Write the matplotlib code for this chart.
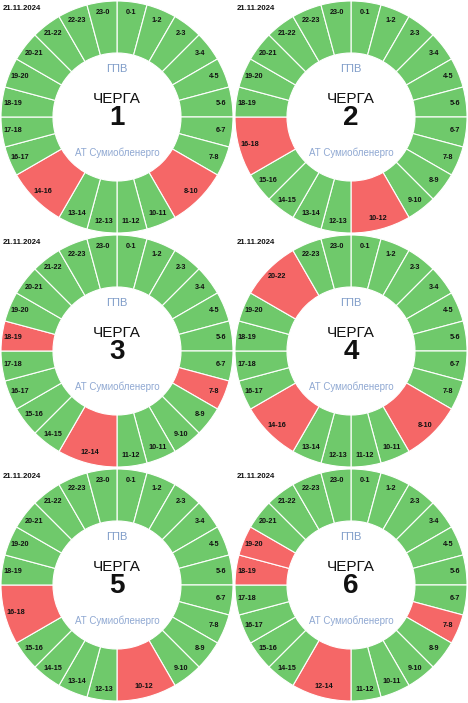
import matplotlib
matplotlib.use("Agg")
import matplotlib.pyplot as plt

plt.rcParams['font.family'] = ['Liberation Sans', 'DejaVu Sans']

date_label = "21.11.2024"
queues = [1, 2, 3, 4, 5, 6]
# outage periods (start hour, end hour) for each queue
outages = {
    1: [(8, 10), (14, 16)],
    2: [(10, 12), (16, 18)],
    3: [(7, 8), (12, 14), (18, 19)],
    4: [(8, 10), (14, 16), (20, 22)],
    5: [(10, 12), (16, 18)],
    6: [(7, 8), (12, 14), (18, 19), (19, 20)],
}

GREEN = "#6fc96b"
RED = "#f56767"


def build_segments(periods):
    segs = []
    h = 0
    starts = {a: b for a, b in periods}
    while h < 24:
        if h in starts:
            end = starts[h]
            segs.append((h, end, True))
            h = end
        else:
            segs.append((h, h + 1, False))
            h += 1
    return segs


W, H = 468, 703
fig = plt.figure(figsize=(W / 100, H / 100), dpi=100)
fig.patch.set_facecolor("white")

R = 116
r_in = 64
for i, q in enumerate(queues):
    row, col = divmod(i, 2)
    ax = fig.add_axes([col * 234 / W, 1 - (row * 234 + 234) / H, 234 / W, 234 / H])
    ax.set_xlim(-117, 117)
    ax.set_ylim(-117, 117)
    ax.set_aspect("equal")
    ax.axis("off")

    segs = build_segments(outages[q])
    sizes = [b - a for a, b, _ in segs]
    labels = [f"{a}-{b % 24}" for a, b, _ in segs]
    colors = [RED if off else GREEN for _, _, off in segs]
    wedges, texts = ax.pie(sizes, labels=labels, colors=colors, radius=R,
                           startangle=90, counterclock=False,
                           labeldistance=0.905,
                           wedgeprops=dict(width=R - r_in, edgecolor="white",
                                           linewidth=0.8),
                           textprops=dict(fontsize=5.2, fontweight="bold",
                                          color="#111111"))
    for t in texts:
        t.set_ha("center")
        t.set_va("center")
    ax.set_xlim(-117, 117)
    ax.set_ylim(-117, 117)

    ax.text(-114, 108, date_label, ha="left", va="center", fontsize=5.6,
            fontweight="bold", color="#111111")
    ax.text(0, 48, "ГПВ", ha="center", va="center", fontsize=8,
            color="#7f9cc8")
    ax.text(0, 18, "ЧЕРГА", ha="center", va="center", fontsize=11,
            color="#111111")
    ax.text(0, -1, str(q), ha="center", va="center", fontsize=20,
            fontweight="bold", color="#111111")
    ax.text(0, -36, "АТ Сумиобленерго", ha="center", va="center",
            fontsize=7, color="#8fa8d2")

fig.savefig("out.png", dpi=100, facecolor="white")
